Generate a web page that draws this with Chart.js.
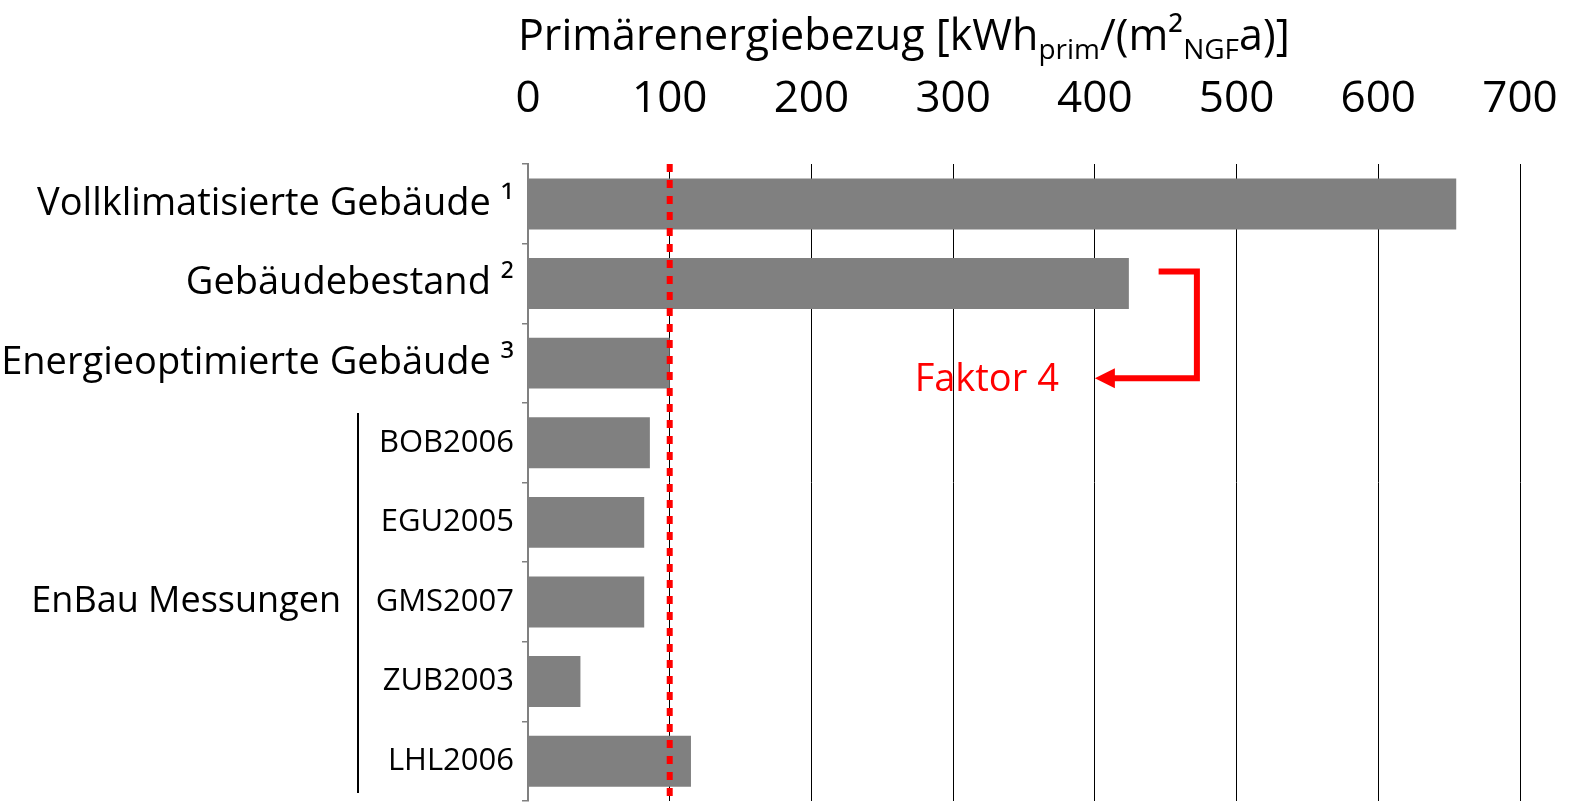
<!DOCTYPE html>
<html><head><meta charset="utf-8">
<script src="https://cdn.jsdelivr.net/npm/chart.js@4/dist/chart.umd.min.js"></script>
<style>html,body{margin:0;padding:0;background:#fff}#wrap{width:1571px;height:806px}</style>
</head><body><div id="wrap"><canvas id="c" width="1571" height="806"></canvas></div>
<script>
const categories = ['Vollklimatisierte Gebäude ¹','Gebäudebestand ²','Energieoptimierte Gebäude ³','BOB2006','EGU2005','GMS2007','ZUB2003','LHL2006'];
const values = [655, 424, 100, 86, 82, 82, 37, 115];
const xMin = 0, xMax = 700, xStep = 100;
const referenceValue = 100;
const groupLabel = 'EnBau Messungen';
const groupFirst = 3, groupLast = 7;
const annotationText = 'Faktor 4';
const bracketFromValue = 445, bracketToValue = 472, arrowTipValue = 400;
const titleParts = [['Primärenergiebezug [kWh','n'],['prim','sub'],['/(m²','n'],['NGF','sub'],['a)]','n']];

const FONT = '"Open Sans", sans-serif';
const PLOT_LEFT = 528;

const overlay = {
  id: 'overlay',
  afterDraw(chart) {
    const ctx = chart.ctx, xs = chart.scales.x, ys = chart.scales.y, ca = chart.chartArea;
    ctx.save();
    // title with subscripts
    let x = 518;
    const base = 50;
    ctx.fillStyle = '#000';
    ctx.textBaseline = 'alphabetic';
    ctx.textAlign = 'left';
    for (const [t, k] of titleParts) {
      ctx.font = (k === 'sub' ? '28px ' : '43px ') + FONT;
      ctx.fillText(t, x, k === 'sub' ? base + 9 : base);
      x += ctx.measureText(t).width;
    }
    // reference dotted line
    const rx = xs.getPixelForValue(referenceValue);
    ctx.strokeStyle = '#ff0000';
    ctx.lineWidth = 6;
    ctx.setLineDash([8, 8]);
    ctx.beginPath(); ctx.moveTo(rx, ca.top); ctx.lineTo(rx, ca.bottom); ctx.stroke();
    ctx.setLineDash([]);
    // group label and bracket line
    const gy1 = ys.getPixelForValue(groupFirst), gy2 = ys.getPixelForValue(groupLast);
    const half = (ys.getPixelForValue(1) - ys.getPixelForValue(0)) / 2;
    ctx.strokeStyle = '#000'; ctx.lineWidth = 2;
    ctx.beginPath(); ctx.moveTo(358, gy1 - half + 10); ctx.lineTo(358, gy2 + half - 8); ctx.stroke();
    ctx.font = '500 36px ' + FONT;
    ctx.textAlign = 'right'; ctx.textBaseline = 'middle';
    ctx.fillText(groupLabel, 341, (gy1 + gy2) / 2);
    // Faktor 4 annotation
    const bx1 = xs.getPixelForValue(bracketFromValue), bx2 = xs.getPixelForValue(bracketToValue);
    const ax = xs.getPixelForValue(arrowTipValue);
    const by1 = ys.getPixelForValue(1) - 12, by2 = ys.getPixelForValue(2) + 15;
    ctx.strokeStyle = '#ff0000'; ctx.fillStyle = '#ff0000'; ctx.lineWidth = 6;
    ctx.lineJoin = 'miter';
    ctx.beginPath(); ctx.moveTo(bx1, by1); ctx.lineTo(bx2, by1); ctx.lineTo(bx2, by2); ctx.lineTo(ax + 18, by2); ctx.stroke();
    ctx.beginPath(); ctx.moveTo(ax, by2); ctx.lineTo(ax + 20, by2 - 10); ctx.lineTo(ax + 20, by2 + 10); ctx.closePath(); ctx.fill();
    ctx.font = '38px ' + FONT;
    ctx.textAlign = 'right'; ctx.textBaseline = 'alphabetic';
    ctx.fillText(annotationText, ax - 36, by2 + 13);
    ctx.restore();
  }
};

new Chart(document.getElementById('c'), {
  type: 'bar',
  data: { labels: categories, datasets: [{ data: values, backgroundColor: '#808080', borderWidth: 0, barPercentage: 0.64, categoryPercentage: 1 }] },
  options: {
    indexAxis: 'y', responsive: false, animation: false, devicePixelRatio: 1,
    layout: { padding: { top: 34, right: 51, bottom: 5, left: 0 } },
    plugins: { legend: { display: false }, tooltip: { enabled: false }, title: { display: false } },
    scales: {
      x: {
        position: 'top', min: xMin, max: xMax,
        ticks: { stepSize: xStep, color: '#000', font: { family: FONT, size: 44, lineHeight: 2.73 }, padding: 5, maxRotation: 0 },
        grid: { color: (c) => (c.tick && c.tick.value === 0) ? 'rgba(0,0,0,0)' : '#000', lineWidth: 1, drawTicks: false },
        border: { display: false }
      },
      y: {
        afterFit: (s) => { s.width = PLOT_LEFT; s.paddingTop = 0; s.paddingBottom = 0; },
        ticks: { color: '#000', padding: 8, autoSkip: false,
          font: (c) => (c.index < 3 ? { family: FONT, size: 38, weight: '500', lineHeight: 0.05 } : { family: FONT, size: 31, lineHeight: 0.05 }) },
        grid: { drawOnChartArea: false, drawTicks: true, tickLength: 6, color: '#808080', lineWidth: 1.5 },
        border: { color: '#808080', width: 2 }
      }
    }
  },
  plugins: [overlay]
});
</script></body></html>
